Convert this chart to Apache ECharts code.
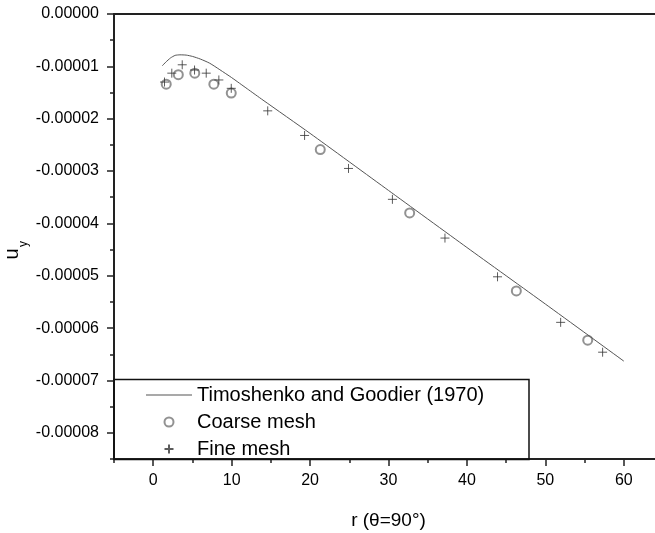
<!DOCTYPE html>
<html><head><meta charset="utf-8">
<script src="https://cdn.jsdelivr.net/npm/echarts@6/dist/echarts.min.js"></script>
<style>html,body{margin:0;padding:0;background:#fff}#c{width:655px;height:533px}</style>
</head><body><div id="c"></div>
<script>
// ---- data ----
const theoryR  = [1.15, 1.6, 2.2, 2.8, 3.4, 4.2, 5.0, 6.0, 7.2, 8.5, 10, 12, 14, 20, 30, 40, 50, 60];
const theoryUy = [-0.99e-5, -0.92e-5, -0.84e-5, -0.79e-5, -0.78e-5, -0.785e-5, -0.81e-5, -0.86e-5, -0.94e-5, -1.065e-5, -1.215e-5, -1.43e-5, -1.645e-5, -2.28e-5, -3.37e-5, -4.46e-5, -5.54e-5, -6.63e-5];
const coarseR  = [1.66, 3.2, 5.3, 7.73, 9.95, 21.3, 32.7, 46.3, 55.4];
const coarseUy = [-1.34e-5, -1.16e-5, -1.13e-5, -1.34e-5, -1.51e-5, -2.59e-5, -3.80e-5, -5.29e-5, -6.23e-5];
const fineR    = [1.44, 2.37, 3.7, 5.27, 6.76, 8.37, 9.95, 14.6, 19.3, 24.9, 30.5, 37.2, 43.9, 51.95, 57.3];
const fineUy   = [-1.30e-5, -1.13e-5, -0.97e-5, -1.07e-5, -1.13e-5, -1.26e-5, -1.42e-5, -1.85e-5, -2.32e-5, -2.95e-5, -3.54e-5, -4.28e-5, -5.02e-5, -5.89e-5, -6.46e-5];
const seriesNames = ['Timoshenko and Goodier (1970)', 'Coarse mesh', 'Fine mesh'];
const xMajorTicks = [0, 10, 20, 30, 40, 50, 60];
const yMajorTicks = [0, -1e-5, -2e-5, -3e-5, -4e-5, -5e-5, -6e-5, -7e-5, -8e-5];
const xTitle = 'r (θ=90°)';
const yTitleMain = 'u', yTitleSub = 'y';

const zip = (a, b) => a.map((v, i) => [v, b[i]]);
const FONT = '"Liberation Sans", Arial, sans-serif';
const AX = '#222';

// main plot geometry
const G = {left: 114, top: 14, right: -8, bottom: 74};
const XMIN = -5, XMAX = 65, YMIN = -8.5e-5, YMAX = 0;
const W = 655 - G.left - G.right, H = 533 - G.top - G.bottom;
const pxPerX = W / (XMAX - XMIN), pxPerY = H / (YMAX - YMIN);
const x0Left = G.left + (0 - XMIN) * pxPerX;          // pixel of r = 0
const y8Bottom = 533 - (G.top + (YMAX - (-8e-5)) * pxPerY); // bottom offset of u = -8e-5

const hidden = (extra) => Object.assign({type: 'value', show: false, splitLine: {show: false}}, extra);

const chart = echarts.init(document.getElementById('c'), null, {renderer: 'canvas'});
chart.setOption({
  animation: false,
  backgroundColor: '#fff',
  grid: [
    Object.assign({containLabel: false, outerBoundsMode: 'none'}, G),
    {left: x0Left, top: G.top, right: G.right, bottom: G.bottom, containLabel: false, outerBoundsMode: 'none'},
    {left: G.left, top: G.top, right: G.right, bottom: y8Bottom, containLabel: false, outerBoundsMode: 'none'}
  ],
  xAxis: [
    {gridIndex: 0, type: 'value', min: XMIN, max: XMAX, interval: 10, position: 'bottom',
     axisLine: {show: true, onZero: false, lineStyle: {color: AX, width: 2}},
     axisTick: {show: true, length: 4, lineStyle: {color: AX, width: 1.5}},
     axisLabel: {show: true, customValues: xMajorTicks, margin: 14, color: '#000', fontSize: 16, fontFamily: FONT},
     splitLine: {show: false},
     name: xTitle, nameLocation: 'middle', nameGap: 52,
     nameTextStyle: {color: '#000', fontSize: 19, fontFamily: FONT}},
    {gridIndex: 0, type: 'value', min: XMIN, max: XMAX, position: 'top',
     axisLine: {show: true, onZero: false, lineStyle: {color: AX, width: 2}},
     axisTick: {show: false}, axisLabel: {show: false}, splitLine: {show: false}},
    // major x ticks (grid 1 starts at r = 0)
    {gridIndex: 1, type: 'value', min: 0, max: XMAX, interval: 10, position: 'bottom',
     axisLine: {show: false, onZero: false},
     axisTick: {show: true, length: 7, lineStyle: {color: AX, width: 1.5}},
     axisLabel: {show: false}, splitLine: {show: false}},
    hidden({gridIndex: 2, min: XMIN, max: XMAX})
  ],
  yAxis: [
    {gridIndex: 0, type: 'value', min: YMIN, max: YMAX, interval: 1e-5, position: 'left',
     axisLine: {show: true, onZero: false, lineStyle: {color: AX, width: 2}},
     axisTick: {show: true, length: 4, lineStyle: {color: AX, width: 1.5}},
     axisLabel: {show: true, customValues: yMajorTicks, margin: 15, color: '#000', fontSize: 16, fontFamily: FONT,
                 formatter: v => (Math.abs(v) < 1e-12 ? 0 : v).toFixed(5)},
     splitLine: {show: false}},
    hidden({gridIndex: 1, min: YMIN, max: YMAX}),
    // major y ticks (grid 2 ends at u = -8e-5)
    {gridIndex: 2, type: 'value', min: -8e-5, max: YMAX, interval: 1e-5, position: 'left',
     axisLine: {show: false, onZero: false},
     axisTick: {show: true, length: 7, lineStyle: {color: AX, width: 1.5}},
     axisLabel: {show: false}, splitLine: {show: false}}
  ],
  legend: {
    orient: 'vertical', left: 146, top: 385, padding: 0,
    itemWidth: 46, itemHeight: 9, itemGap: 7, symbolKeepAspect: true,
    textStyle: {color: '#000', fontSize: 20, fontFamily: FONT, lineHeight: 20},
    data: [{name: seriesNames[0], icon: 'path://M0,0L46,0L46,1L0,1Z'}, {name: seriesNames[1]}, {name: seriesNames[2]}]
  },
  graphic: [
    {type: 'rect', z: 10, shape: {x: 114, y: 379.5, width: 415, height: 80},
     style: {fill: null, stroke: '#111', lineWidth: 1.5}},
    {type: 'text', z: 10, x: 12, y: 254, rotation: Math.PI / 2,
     style: {text: yTitleMain, fill: '#000', font: '20px ' + FONT, align: 'center', verticalAlign: 'middle'}},
    {type: 'text', z: 10, x: 24, y: 244, rotation: Math.PI / 2,
     style: {text: yTitleSub, fill: '#000', font: '12px ' + FONT, align: 'center', verticalAlign: 'middle'}}
  ],
  series: [
    {name: seriesNames[0], type: 'line', xAxisIndex: 0, yAxisIndex: 0, data: zip(theoryR, theoryUy),
     symbol: 'none', showSymbol: false, smooth: 0.2, lineStyle: {color: '#555', width: 1}, itemStyle: {color: '#555'}},
    {name: seriesNames[1], type: 'scatter', xAxisIndex: 0, yAxisIndex: 0, data: zip(coarseR, coarseUy),
     symbol: 'emptyCircle', symbolSize: 9, itemStyle: {color: '#777', borderColor: '#777', borderWidth: 1}},
    {name: seriesNames[2], type: 'scatter', xAxisIndex: 0, yAxisIndex: 0, data: zip(fineR, fineUy),
     symbol: 'path://M0,5L10,5M5,0L5,10', symbolSize: 9,
     itemStyle: {color: 'rgba(0,0,0,0)', borderColor: '#333', borderWidth: 1}}
  ]
});
</script></body></html>
